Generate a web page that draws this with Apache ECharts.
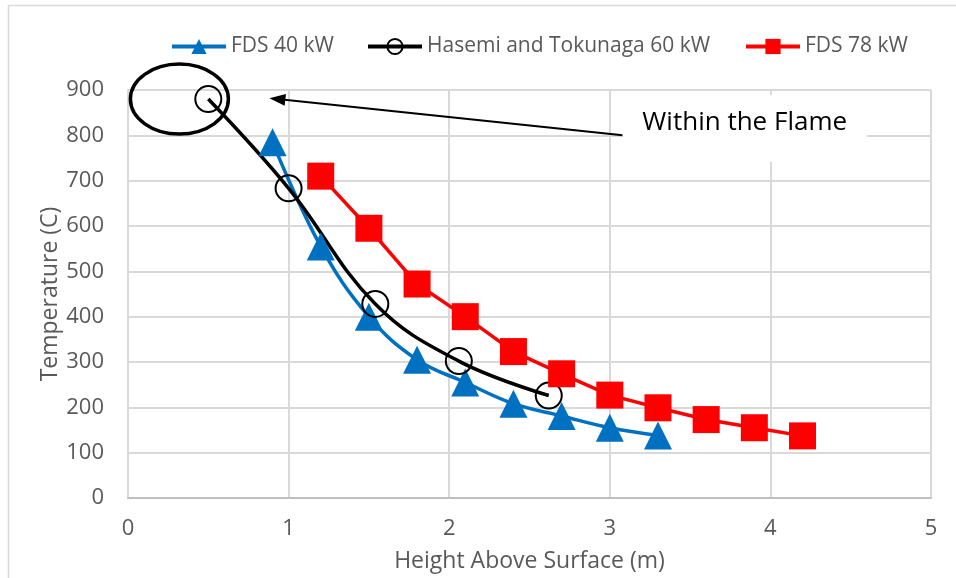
<!DOCTYPE html>
<html>
<head>
<meta charset="utf-8">
<script src="https://cdn.jsdelivr.net/npm/echarts@6/dist/echarts.min.js"></script>
<style>
  html, body { margin: 0; padding: 0; background: #fff; }
  #chart { width: 956px; height: 578px; }
</style>
</head>
<body>
<div id="chart"></div>
<script>
// Plume centreline temperature versus height
const fds40Heights = [0.9, 1.2, 1.5, 1.8, 2.1, 2.4, 2.7, 3.0, 3.3];
const fds40Temps   = [785, 555, 400, 305, 255, 208, 181, 155, 138];

const hasemiHeights = [0.5, 1.0, 1.54, 2.06, 2.62];
const hasemiTemps   = [880, 683, 428, 302, 226];

const fds78Heights = [1.2, 1.5, 1.8, 2.1, 2.4, 2.7, 3.0, 3.3, 3.6, 3.9, 4.2];
const fds78Temps   = [710, 595, 472, 400, 323, 274, 227, 199, 173, 155, 137];

const seriesNames = ['FDS 40 kW', 'Hasemi and Tokunaga 60 kW', 'FDS 78 kW'];
const xTicks = [0, 1, 2, 3, 4, 5];
const yTicks = [0, 100, 200, 300, 400, 500, 600, 700, 800, 900];
const xTitle = 'Height Above Surface (m)';
const yTitle = 'Temperature (C)';
const noteText = 'Within the Flame';

const FONT = '"Open Sans", "Noto Sans", sans-serif';
const GREY_TEXT = '#595959';

const pairs = (xs, ys) => xs.map((x, i) => [x, ys[i]]);

const chart = echarts.init(document.getElementById('chart'), null, { renderer: 'canvas' });

const legendBase = {
  orient: 'horizontal',
  top: 36,
  padding: 0,
  itemWidth: 54,
  itemHeight: 19,
  itemGap: 5,
  selectedMode: false,
  lineStyle: { width: 4 },
  textStyle: { color: GREY_TEXT, fontSize: 21, fontFamily: FONT }
};

chart.setOption({
  animation: false,
  backgroundColor: '#ffffff',
  textStyle: { fontFamily: FONT },
  grid: { left: 128, right: 25, top: 90, bottom: 78, containLabel: false },
  legend: [
    Object.assign({}, legendBase, { left: 170, data: [seriesNames[0]] }),
    Object.assign({}, legendBase, { left: 366, data: [seriesNames[1]] }),
    Object.assign({}, legendBase, { left: 744, data: [seriesNames[2]] })
  ],
  xAxis: {
    type: 'value',
    min: xTicks[0],
    max: xTicks[xTicks.length - 1],
    interval: 1,
    name: xTitle,
    nameLocation: 'middle',
    nameGap: 52,
    nameMoveOverlap: false,
    nameTextStyle: { color: GREY_TEXT, fontSize: 23, fontFamily: FONT },
    axisLine: { show: true, lineStyle: { color: '#BFBFBF', width: 2 } },
    axisTick: { show: false },
    axisLabel: { color: GREY_TEXT, fontSize: 22, fontFamily: FONT, margin: 20 },
    splitLine: { show: true, lineStyle: { color: '#D9D9D9', width: 2 } }
  },
  yAxis: {
    type: 'value',
    min: yTicks[0],
    max: yTicks[yTicks.length - 1],
    interval: 100,
    name: yTitle,
    nameLocation: 'middle',
    nameGap: 66,
    nameMoveOverlap: false,
    nameTextStyle: { color: GREY_TEXT, fontSize: 23, fontFamily: FONT },
    axisLine: { show: true, lineStyle: { color: '#D9D9D9', width: 2 } },
    axisTick: { show: false },
    axisLabel: { color: GREY_TEXT, fontSize: 22, fontFamily: FONT, margin: 24 },
    splitLine: { show: true, lineStyle: { color: '#D9D9D9', width: 2 } }
  },
  series: [
    {
      name: seriesNames[0],
      type: 'line',
      data: pairs(fds40Heights, fds40Temps),
      smooth: 0.4,
      symbol: 'triangle',
      symbolSize: 28,
      lineStyle: { color: '#0070C0', width: 3.5 },
      itemStyle: { color: '#0070C0' },
      emphasis: { disabled: true }
    },
    {
      name: seriesNames[1],
      type: 'line',
      data: pairs(hasemiHeights, hasemiTemps),
      smooth: 0.4,
      symbol: 'circle',
      symbolSize: 26,
      lineStyle: { color: '#000000', width: 3.5 },
      itemStyle: { color: 'rgba(0,0,0,0)', borderColor: '#000000', borderWidth: 2 },
      emphasis: { disabled: true }
    },
    {
      name: seriesNames[2],
      type: 'line',
      data: pairs(fds78Heights, fds78Temps),
      smooth: false,
      symbol: 'rect',
      symbolSize: 27,
      lineStyle: { color: '#FF0000', width: 3.5 },
      itemStyle: { color: '#FF0000' },
      emphasis: { disabled: true },
      markLine: {
        silent: true,
        symbol: ['none', 'triangle'],
        symbolSize: [12, 16],
        label: { show: false },
        lineStyle: { color: '#000000', width: 2, type: 'solid' },
        emphasis: { disabled: true },
        data: [[{ coord: [3.08, 800] }, { coord: [0.93, 880] }]]
      }
    }
  ]
});

// Annotation shapes placed from data coordinates
const px = (pt) => chart.convertToPixel({ gridIndex: 0 }, pt);
const ellipseCenter = px([0.32, 880]);
const boxTopLeft = px([3.08, 889]);
const boxBottomRight = px([4.6, 742]);

chart.setOption({
  graphic: [
    {
      type: 'rect',
      silent: true,
      z: -1,
      shape: { x: 8.5, y: 5.5, width: 2000, height: 2000 },
      style: { fill: 'none', stroke: '#D9D9D9', lineWidth: 1.5 }
    },
    {
      type: 'ellipse',
      silent: true,
      z: 50,
      shape: { cx: ellipseCenter[0], cy: ellipseCenter[1], rx: 49, ry: 35 },
      style: { fill: 'none', stroke: '#000000', lineWidth: 3.5 }
    },
    {
      type: 'rect',
      silent: true,
      z: 40,
      shape: {
        x: boxTopLeft[0], y: boxTopLeft[1],
        width: boxBottomRight[0] - boxTopLeft[0],
        height: boxBottomRight[1] - boxTopLeft[1]
      },
      style: { fill: '#ffffff', stroke: 'none' }
    },
    {
      type: 'text',
      silent: true,
      z: 41,
      x: (boxTopLeft[0] + boxBottomRight[0]) / 2,
      y: boxTopLeft[1] + 28,
      style: {
        text: noteText,
        fill: '#000000',
        font: '26px ' + FONT,
        align: 'center',
        verticalAlign: 'middle'
      }
    }
  ]
});
</script>
</body>
</html>
